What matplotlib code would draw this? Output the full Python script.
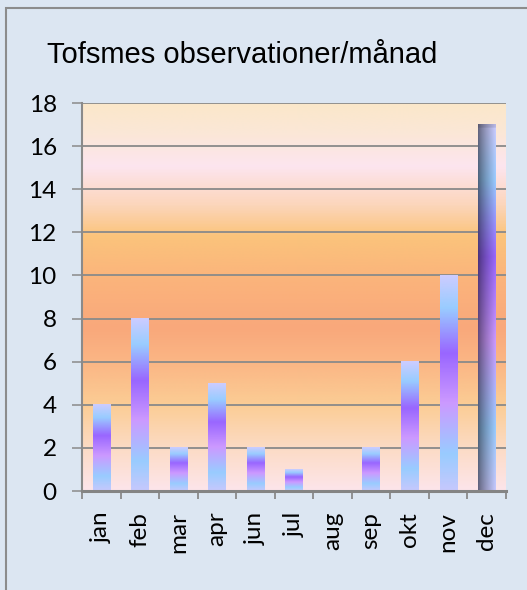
import numpy as np
import matplotlib
matplotlib.use("Agg")
import matplotlib.pyplot as plt
from matplotlib.colors import LinearSegmentedColormap
from matplotlib.patches import Rectangle

# ---- data ----
months = ["jan", "feb", "mar", "apr", "jun", "jul", "aug", "sep", "okt", "nov", "dec"]
counts = [4, 8, 2, 5, 2, 1, 0, 2, 6, 10, 17]
yticks = [0, 2, 4, 6, 8, 10, 12, 14, 16, 18]
title = "Tofsmes observationer/månad"

W, H, DPI = 527, 590, 100
fig = plt.figure(figsize=(W / DPI, H / DPI), dpi=DPI)
fig.patch.set_facecolor("#dce6f2")

# outer frame (clipped at right/bottom like the reference)
fig.add_artist(Rectangle((6 / W, -0.1), 1.2, (H - 8) / H + 0.1, transform=fig.transFigure,
                         fill=False, edgecolor="#8c8c8c", linewidth=1.5))

ax = fig.add_axes([82 / W, 1 - 491 / H, (506 - 82) / W, (491 - 103) / H])
ax.set_xlim(-0.5, len(months) - 0.5)
ax.set_ylim(0, 18)

# plot-area background gradient
bg_stops = [(0.0, "#fde5ea"), (0.10, "#fcdcc8"), (0.22, "#fbcd95"), (0.32, "#fbb886"),
            (0.42, "#f9a87b"), (0.55, "#fbb47b"), (0.66, "#fbc47c"), (0.74, "#fcd6bc"),
            (0.84, "#fde5ef"), (0.92, "#fbe7d8"), (1.0, "#fbe8ca")]
bg_cmap = LinearSegmentedColormap.from_list("bg", bg_stops)
grad = np.linspace(0, 1, 400).reshape(-1, 1)
ax.imshow(grad, cmap=bg_cmap, origin="lower", aspect="auto",
          extent=[-0.5, len(months) - 0.5, 0, 18], zorder=0, interpolation="bilinear")

# gridlines
ax.set_yticks(yticks)
ax.yaxis.grid(True, color="#8a8a8a", linewidth=1.3, zorder=1)
ax.set_axisbelow(True)

# bars
bar_stops = [(0.0, "#c6c8fd"), (0.17, "#99ccff"), (0.41, "#cc99ff"), (0.64, "#9966ff"),
             (0.85, "#99ccff"), (1.0, "#ccccff")]
bar_cmap = LinearSegmentedColormap.from_list("bar", bar_stops)
bars = ax.bar(range(len(months)), counts, width=0.45, facecolor="none", edgecolor="none", zorder=3)
for i, b in enumerate(bars):
    h = b.get_height()
    if h <= 0:
        continue
    x0, w = b.get_x(), b.get_width()
    v = np.linspace(0, 1, 300)
    col = bar_cmap(v)[:, :3]
    if i == len(bars) - 1:
        # shaded (highlighted) last bar: darker on the left side
        fx = np.linspace(0, 1, 40)
        f = 0.48 + 0.52 * fx ** 0.8
        img = col[:, None, :] * f[None, :, None]
        img[-3:, :, :] *= 0.9
    else:
        img = np.repeat(col[:, None, :], 2, axis=1)
    ax.imshow(img, origin="lower", aspect="auto", extent=[x0, x0 + w, 0, h],
              zorder=3, interpolation="bilinear")
ax.set_xlim(-0.5, len(months) - 0.5)
ax.set_ylim(0, 18)

# spines
for s in ["top", "right"]:
    ax.spines[s].set_visible(False)
ax.spines["left"].set_color("#8a8a8a")
ax.spines["left"].set_linewidth(1.5)
ax.spines["bottom"].set_color("#848484")
ax.spines["bottom"].set_linewidth(2.2)
ax.spines["bottom"].set_zorder(4)

tick_font = "Lato"
ax.set_yticklabels([str(t) for t in yticks], fontsize=17.5, family=tick_font)
ax.tick_params(axis="y", length=7.2, width=1.1, color="#8a8a8a", pad=11)

ax.set_xticks(range(len(months)))
ax.set_xticklabels(months, rotation=90, fontsize=17.5, family=tick_font, va="top", ha="center")
ax.set_xticks(np.arange(-0.5, len(months), 1.0), minor=True)
ax.tick_params(axis="x", which="major", length=0, pad=15)
ax.tick_params(axis="x", which="minor", length=5.8, width=1.3, color="#8a8a8a")

fig.text(47 / W, 1 - 63 / H, title, fontsize=21, family="Liberation Sans",
         ha="left", va="baseline", color="black")

fig.savefig("out.png", dpi=DPI, facecolor=fig.get_facecolor())
